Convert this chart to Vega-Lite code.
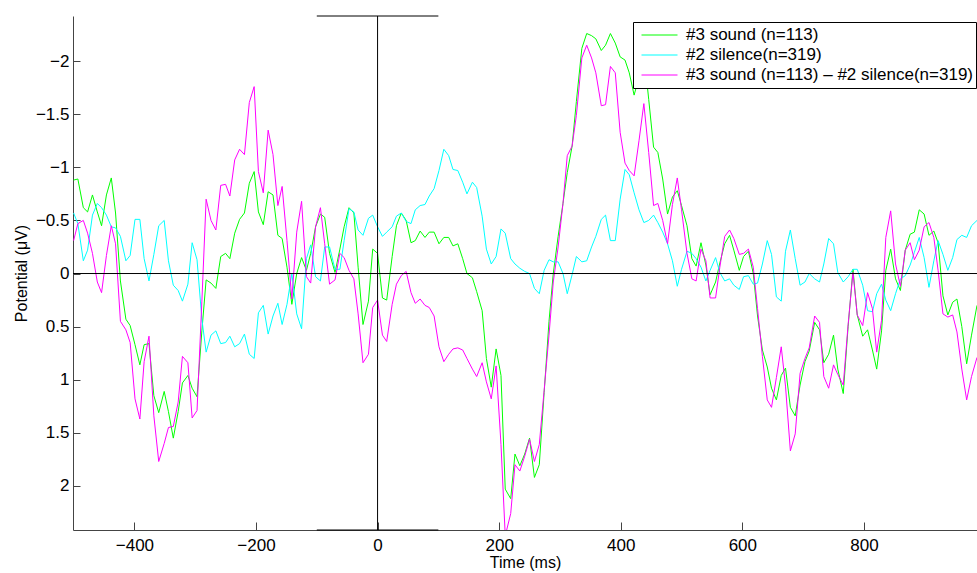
{
 "$schema": "https://vega.github.io/schema/vega-lite/v6.json",
 "width": 904,
 "height": 514,
 "autosize": {"type": "none"},
 "padding": {"left": 73, "top": 16, "right": 0, "bottom": 43},
 "background": "white",
 "config": {"view": {"stroke": null}, "font": "Liberation Sans"},
 "datasets": {
  "erp": [
   {"t":-500,"g":-0.88,"c":-0.57,"m":-0.31},
   {"t":-493,"g":-0.89,"c":-0.47,"m":-0.47},
   {"t":-484,"g":-0.62,"c":-0.12,"m":-0.50},
   {"t":-477,"g":-0.58,"c":-0.22,"m":-0.38},
   {"t":-469,"g":-0.74,"c":-0.55,"m":-0.19},
   {"t":-461,"g":-0.58,"c":-0.66,"m":0.08},
   {"t":-454,"g":-0.45,"c":-0.62,"m":0.18},
   {"t":-446,"g":-0.74,"c":-0.55,"m":-0.17},
   {"t":-438,"g":-0.90,"c":-0.44,"m":-0.45},
   {"t":-431,"g":-0.57,"c":-0.43,"m":-0.28},
   {"t":-423,"g":0.07,"c":-0.35,"m":0.45},
   {"t":-414,"g":0.43,"c":-0.12,"m":0.53},
   {"t":-407,"g":0.49,"c":-0.17,"m":0.65},
   {"t":-399,"g":0.67,"c":-0.51,"m":1.18},
   {"t":-391,"g":0.86,"c":-0.51,"m":1.37},
   {"t":-384,"g":0.67,"c":-0.14,"m":0.83},
   {"t":-376,"g":0.66,"c":0.07,"m":0.59},
   {"t":-368,"g":1.15,"c":-0.18,"m":1.34},
   {"t":-360,"g":1.31,"c":-0.45,"m":1.77},
   {"t":-351,"g":1.11,"c":-0.50,"m":1.60},
   {"t":-344,"g":1.30,"c":-0.12,"m":1.45},
   {"t":-336,"g":1.55,"c":0.11,"m":1.44},
   {"t":-328,"g":1.30,"c":0.16,"m":1.21},
   {"t":-321,"g":1.03,"c":0.26,"m":0.78},
   {"t":-312,"g":0.96,"c":0.10,"m":0.84},
   {"t":-305,"g":1.08,"c":-0.29,"m":1.36},
   {"t":-297,"g":1.16,"c":-0.13,"m":1.29},
   {"t":-289,"g":0.54,"c":0.43,"m":0.26},
   {"t":-282,"g":0.06,"c":0.74,"m":-0.70},
   {"t":-274,"g":0.09,"c":0.58,"m":-0.50},
   {"t":-266,"g":0.14,"c":0.54,"m":-0.41},
   {"t":-258,"g":-0.16,"c":0.66,"m":-0.83},
   {"t":-250,"g":-0.19,"c":0.65,"m":-0.84},
   {"t":-243,"g":-0.14,"c":0.59,"m":-0.73},
   {"t":-235,"g":-0.38,"c":0.69,"m":-1.07},
   {"t":-227,"g":-0.51,"c":0.66,"m":-1.17},
   {"t":-219,"g":-0.57,"c":0.57,"m":-1.12},
   {"t":-211,"g":-0.85,"c":0.76,"m":-1.61},
   {"t":-203,"g":-0.96,"c":0.80,"m":-1.76},
   {"t":-196,"g":-0.58,"c":0.37,"m":-0.96},
   {"t":-188,"g":-0.46,"c":0.30,"m":-0.76},
   {"t":-180,"g":-0.77,"c":0.57,"m":-1.35},
   {"t":-172,"g":-0.74,"c":0.40,"m":-1.12},
   {"t":-164,"g":-0.36,"c":0.28,"m":-0.64},
   {"t":-157,"g":-0.33,"c":0.48,"m":-0.82},
   {"t":-149,"g":-0.06,"c":0.29,"m":-0.31},
   {"t":-141,"g":0.29,"c":0.0,"m":0.24},
   {"t":-133,"g":0.0,"c":0.38,"m":-0.39},
   {"t":-125,"g":-0.15,"c":0.52,"m":-0.68},
   {"t":-117,"g":-0.03,"c":-0.14,"m":0.03},
   {"t":-110,"g":-0.19,"c":-0.27,"m":0.09},
   {"t":-102,"g":-0.44,"c":0.03,"m":-0.44},
   {"t":-94,"g":-0.56,"c":0.07,"m":-0.62},
   {"t":-87,"g":-0.53,"c":-0.25,"m":-0.28},
   {"t":-79,"g":-0.19,"c":-0.25,"m":0.10},
   {"t":-70,"g":-0.01,"c":-0.04,"m":0.06},
   {"t":-62,"g":-0.23,"c":-0.04,"m":-0.19},
   {"t":-55,"g":-0.44,"c":-0.31,"m":-0.15},
   {"t":-47,"g":-0.62,"c":-0.61,"m":-0.03},
   {"t":-39,"g":-0.57,"c":-0.58,"m":0.05},
   {"t":-32,"g":-0.06,"c":-0.41,"m":0.38},
   {"t":-24,"g":0.48,"c":-0.36,"m":0.84},
   {"t":-15,"g":0.26,"c":-0.52,"m":0.76},
   {"t":-8,"g":-0.23,"c":-0.55,"m":0.32},
   {"t":0,"g":-0.19,"c":-0.44,"m":0.25},
   {"t":8,"g":0.23,"c":-0.35,"m":0.58},
   {"t":15,"g":0.25,"c":-0.39,"m":0.64},
   {"t":24,"g":-0.16,"c":-0.44,"m":0.29},
   {"t":31,"g":-0.45,"c":-0.54,"m":0.10},
   {"t":39,"g":-0.57,"c":-0.57,"m":0.02},
   {"t":47,"g":-0.50,"c":-0.49,"m":-0.02},
   {"t":55,"g":-0.29,"c":-0.47,"m":0.18},
   {"t":62,"g":-0.31,"c":-0.60,"m":0.28},
   {"t":70,"g":-0.40,"c":-0.64,"m":0.24},
   {"t":78,"g":-0.34,"c":-0.65,"m":0.30},
   {"t":85,"g":-0.39,"c":-0.73,"m":0.32},
   {"t":93,"g":-0.39,"c":-0.80,"m":0.40},
   {"t":101,"g":-0.28,"c":-0.97,"m":0.69},
   {"t":109,"g":-0.34,"c":-1.17,"m":0.83},
   {"t":117,"g":-0.34,"c":-1.11,"m":0.76},
   {"t":124,"g":-0.26,"c":-0.98,"m":0.71},
   {"t":132,"g":-0.28,"c":-0.97,"m":0.70},
   {"t":140,"g":-0.14,"c":-0.86,"m":0.72},
   {"t":147,"g":0.0,"c":-0.75,"m":0.80},
   {"t":156,"g":0.04,"c":-0.86,"m":0.90},
   {"t":163,"g":0.17,"c":-0.81,"m":0.97},
   {"t":172,"g":0.35,"c":-0.54,"m":0.84},
   {"t":179,"g":0.80,"c":-0.23,"m":1.02},
   {"t":187,"g":1.07,"c":-0.09,"m":1.18},
   {"t":195,"g":0.71,"c":-0.16,"m":0.87},
   {"t":203,"g":0.96,"c":-0.42,"m":1.61},
   {"t":210,"g":2.03,"c":-0.38,"m":2.47},
   {"t":219,"g":2.12,"c":-0.14,"m":2.26},
   {"t":226,"g":1.70,"c":-0.09,"m":1.80},
   {"t":234,"g":1.81,"c":-0.05,"m":1.86},
   {"t":242,"g":1.70,"c":-0.02,"m":1.72},
   {"t":250,"g":1.55,"c":0.0,"m":1.56},
   {"t":258,"g":1.92,"c":0.14,"m":1.77},
   {"t":266,"g":1.80,"c":0.19,"m":1.61},
   {"t":274,"g":1.12,"c":-0.03,"m":1.10},
   {"t":282,"g":0.45,"c":-0.13,"m":0.58},
   {"t":289,"g":0.0,"c":-0.11,"m":0.08},
   {"t":297,"g":-0.35,"c":-0.11,"m":-0.25},
   {"t":305,"g":-0.66,"c":0.0,"m":-0.66},
   {"t":312,"g":-0.95,"c":0.19,"m":-1.11},
   {"t":320,"g":-1.20,"c":0.01,"m":-1.20},
   {"t":327,"g":-1.62,"c":-0.16,"m":-1.49},
   {"t":336,"g":-2.12,"c":-0.11,"m":-2.03},
   {"t":344,"g":-2.26,"c":-0.12,"m":-2.15},
   {"t":352,"g":-2.24,"c":-0.25,"m":-2.03},
   {"t":359,"g":-2.21,"c":-0.35,"m":-1.89},
   {"t":368,"g":-2.10,"c":-0.51,"m":-1.58},
   {"t":375,"g":-2.15,"c":-0.55,"m":-1.59},
   {"t":383,"g":-2.26,"c":-0.31,"m":-1.95},
   {"t":391,"g":-2.17,"c":-0.31,"m":-1.89},
   {"t":399,"g":-2.04,"c":-0.70,"m":-1.33},
   {"t":407,"g":-2.01,"c":-0.98,"m":-1.04},
   {"t":414,"g":-1.89,"c":-0.93,"m":-0.97},
   {"t":422,"g":-1.68,"c":-0.76,"m":-0.92},
   {"t":430,"g":-1.85,"c":-0.60,"m":-1.25},
   {"t":438,"g":-2.08,"c":-0.48,"m":-1.60},
   {"t":446,"g":-1.64,"c":-0.50,"m":-1.14},
   {"t":454,"g":-1.19,"c":-0.55,"m":-0.64},
   {"t":461,"g":-1.14,"c":-0.48,"m":-0.66},
   {"t":469,"g":-0.89,"c":-0.39,"m":-0.50},
   {"t":477,"g":-0.56,"c":-0.28,"m":-0.28},
   {"t":485,"g":-0.72,"c":-0.12,"m":-0.65},
   {"t":493,"g":-0.78,"c":0.12,"m":-0.90},
   {"t":500,"g":-0.64,"c":-0.04,"m":-0.60},
   {"t":509,"g":-0.45,"c":-0.21,"m":-0.19},
   {"t":517,"g":-0.14,"c":-0.19,"m":0.05},
   {"t":524,"g":-0.07,"c":-0.14,"m":0.07},
   {"t":532,"g":-0.29,"c":-0.06,"m":-0.23},
   {"t":540,"g":-0.08,"c":0.07,"m":-0.12},
   {"t":547,"g":0.20,"c":-0.03,"m":0.23},
   {"t":556,"g":0.08,"c":-0.15,"m":0.23},
   {"t":563,"g":-0.10,"c":-0.01,"m":-0.06},
   {"t":571,"g":-0.28,"c":0.07,"m":-0.35},
   {"t":579,"g":-0.36,"c":0.05,"m":-0.41},
   {"t":586,"g":-0.22,"c":0.11,"m":-0.33},
   {"t":595,"g":-0.03,"c":0.15,"m":-0.18},
   {"t":602,"g":-0.16,"c":0.03,"m":-0.19},
   {"t":610,"g":-0.21,"c":0.02,"m":-0.23},
   {"t":618,"g":0.0,"c":0.10,"m":-0.06},
   {"t":625,"g":0.40,"c":0.09,"m":0.33},
   {"t":633,"g":0.72,"c":-0.09,"m":0.78},
   {"t":641,"g":0.88,"c":-0.31,"m":1.19},
   {"t":648,"g":1.08,"c":-0.18,"m":1.26},
   {"t":656,"g":1.19,"c":0.22,"m":0.98},
   {"t":664,"g":0.96,"c":0.26,"m":0.69},
   {"t":671,"g":0.89,"c":-0.21,"m":1.06},
   {"t":679,"g":1.26,"c":-0.41,"m":1.67},
   {"t":687,"g":1.34,"c":-0.14,"m":1.51},
   {"t":695,"g":1.05,"c":0.11,"m":0.94},
   {"t":703,"g":0.83,"c":0.08,"m":0.80},
   {"t":710,"g":0.73,"c":0.0,"m":0.70},
   {"t":719,"g":0.46,"c":0.05,"m":0.40},
   {"t":727,"g":0.53,"c":0.08,"m":0.46},
   {"t":734,"g":0.84,"c":-0.09,"m":0.97},
   {"t":742,"g":0.76,"c":-0.33,"m":1.08},
   {"t":750,"g":0.58,"c":-0.28,"m":0.86},
   {"t":757,"g":0.90,"c":-0.01,"m":0.95},
   {"t":766,"g":1.13,"c":0.08,"m":1.05},
   {"t":774,"g":0.50,"c":0.03,"m":0.48},
   {"t":782,"g":-0.04,"c":-0.04,"m":-0.01},
   {"t":789,"g":0.39,"c":-0.04,"m":0.39},
   {"t":798,"g":0.59,"c":0.11,"m":0.49},
   {"t":806,"g":0.53,"c":0.35,"m":0.18},
   {"t":814,"g":0.72,"c":0.36,"m":0.33},
   {"t":821,"g":0.90,"c":0.19,"m":0.74},
   {"t":829,"g":0.54,"c":0.10,"m":0.44},
   {"t":836,"g":-0.03,"c":0.25,"m":-0.34},
   {"t":844,"g":-0.23,"c":0.35,"m":-0.59},
   {"t":852,"g":0.05,"c":0.19,"m":-0.09},
   {"t":860,"g":0.16,"c":0.05,"m":0.12},
   {"t":868,"g":-0.22,"c":0.02,"m":-0.22},
   {"t":876,"g":-0.37,"c":-0.08,"m":-0.29},
   {"t":883,"g":-0.39,"c":-0.20,"m":-0.13},
   {"t":891,"g":-0.60,"c":-0.34,"m":-0.22},
   {"t":899,"g":-0.56,"c":-0.15,"m":-0.44},
   {"t":907,"g":-0.36,"c":0.13,"m":-0.48},
   {"t":915,"g":-0.40,"c":-0.12,"m":-0.34},
   {"t":922,"g":-0.29,"c":-0.31,"m":-0.03},
   {"t":930,"g":0.21,"c":-0.18,"m":0.38},
   {"t":938,"g":0.39,"c":-0.03,"m":0.41},
   {"t":946,"g":0.27,"c":-0.15,"m":0.39},
   {"t":953,"g":0.24,"c":-0.32,"m":0.55},
   {"t":961,"g":0.50,"c":-0.36,"m":0.90},
   {"t":969,"g":0.85,"c":-0.34,"m":1.19},
   {"t":977,"g":0.58,"c":-0.45,"m":0.97},
   {"t":986,"g":0.30,"c":-0.50,"m":0.79}
  ],
  "refs": [{"zero": 0}],
  "bars": [{"x": -100, "x2": 100, "y": -2.425}, {"x": -100, "x2": 100, "y": 2.415}]
 },
 "layer": [
  {
   "data": {"name": "erp"},
   "transform": [{"fold": ["g", "c", "m"], "as": ["series", "v"]}],
   "mark": {"type": "line", "strokeWidth": 1, "clip": true},
   "encoding": {
    "x": {"field": "t", "type": "quantitative", "title": "Time (ms)",
     "scale": {"domain": [-501, 986], "nice": false, "zero": false},
     "axis": {"title": "Time (ms)", "values": [-400, -200, 0, 200, 400, 600, 800], "format": "d", "grid": false,
      "tickSize": -8, "labelPadding": 15, "labelFontSize": 17, "labelFont": "Liberation Sans", "labelColor": "black",
      "titleFontSize": 16, "titleFont": "Liberation Sans", "titleFontWeight": "normal", "titleColor": "black", "titlePadding": 1,
      "domainColor": "#444", "tickColor": "#444", "labelFlush": false}},
    "y": {"field": "v", "type": "quantitative", "title": "Potential (μV)",
     "scale": {"domain": [-2.425, 2.415], "reverse": true, "nice": false, "zero": false},
     "axis": {"title": "Potential (μV)", "values": [-2, -1.5, -1, -0.5, 0, 0.5, 1, 1.5, 2], "format": ".1~f", "grid": false,
      "tickSize": -7, "labelPadding": 11, "labelFontSize": 17, "labelFont": "Liberation Sans", "labelColor": "black",
      "titleFontSize": 16, "titleFont": "Liberation Sans", "titleFontWeight": "normal", "titleColor": "black", "titlePadding": 6,
      "domainColor": "#444", "tickColor": "#444", "labelFlush": false}},
    "color": {"field": "series", "type": "nominal",
     "scale": {"domain": ["g", "c", "m"], "range": ["#00ff00", "#00ffff", "#ff00ff"]},
     "legend": {"title": null, "orient": "none", "legendX": 560, "legendY": 6, "direction": "vertical",
      "symbolType": "stroke", "symbolSize": 1296, "symbolStrokeWidth": 1, "symbolOffset": 5, "labelOffset": 8,
      "labelFontSize": 17, "labelFont": "Liberation Sans", "labelColor": "black", "labelLimit": 500,
      "padding": 3, "strokeColor": "black", "fillColor": "white", "clipHeight": 20, "rowPadding": 0,
      "labelExpr": "datum.value === 'g' ? '#3 sound (n=113)' : datum.value === 'c' ? '#2 silence(n=319)' : '#3 sound (n=113) – #2 silence(n=319)'"}}
   }
  },
  {
   "data": {"name": "refs"},
   "mark": {"type": "rule", "color": "black", "strokeWidth": 1},
   "encoding": {"y": {"field": "zero", "type": "quantitative", "title": "Potential (μV)", "scale": {"domain": [-2.425, 2.415], "reverse": true, "nice": false, "zero": false}}}
  },
  {
   "data": {"name": "refs"},
   "mark": {"type": "rule", "color": "black", "strokeWidth": 1},
   "encoding": {"x": {"field": "zero", "type": "quantitative", "title": "Time (ms)", "scale": {"domain": [-501, 986], "nice": false, "zero": false}}}
  },
  {
   "data": {"name": "bars"},
   "mark": {"type": "rule", "color": "black", "strokeWidth": 1},
   "encoding": {
    "x": {"field": "x", "type": "quantitative", "title": "Time (ms)", "scale": {"domain": [-501, 986], "nice": false, "zero": false}},
    "x2": {"field": "x2"},
    "y": {"field": "y", "type": "quantitative", "title": "Potential (μV)", "scale": {"domain": [-2.425, 2.415], "reverse": true, "nice": false, "zero": false}}
   }
  }
 ]
}
